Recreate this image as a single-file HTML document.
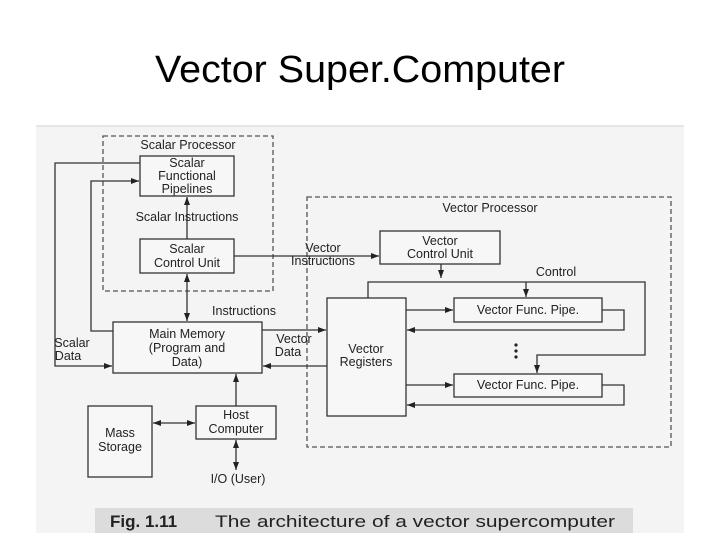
<!DOCTYPE html>
<html><head><meta charset="utf-8"><style>
html,body{margin:0;padding:0;background:#fff;}
svg{display:block;}
text{font-family:"Liberation Sans",sans-serif;fill:#222;}
</style></head><body>
<svg width="720" height="540" viewBox="0 0 720 540" xmlns="http://www.w3.org/2000/svg">
<defs>
<marker id="a" markerWidth="8" markerHeight="6" refX="8" refY="3" orient="auto" markerUnits="userSpaceOnUse"><path d="M0,0 L8,3 L0,6 z" fill="#222"/></marker>
<marker id="s" markerWidth="8" markerHeight="6" refX="0" refY="3" orient="auto" markerUnits="userSpaceOnUse"><path d="M8,0 L0,3 L8,6 z" fill="#222"/></marker>
</defs>
<text x="360" y="82" font-size="38" text-anchor="middle" textLength="410" lengthAdjust="spacingAndGlyphs" style="fill:#000">Vector Super.Computer</text>
<line x1="36" y1="126" x2="684" y2="126" stroke="#ccc" stroke-width="1"/>
<rect x="36" y="127" width="648" height="406" fill="#f4f4f4"/>
<rect x="95" y="508" width="538" height="25" fill="#dcdcdc"/>
<text x="110" y="527" font-size="17" font-weight="bold" style="font-family:'Liberation Sans',sans-serif;fill:#222">Fig. 1.11</text>
<text x="215" y="527" font-size="17" textLength="400" lengthAdjust="spacingAndGlyphs">The architecture of a vector supercomputer</text>

<g fill="none" stroke="#555" stroke-width="1.3" stroke-dasharray="5,3">
<rect x="103" y="136" width="170" height="155"/>
<rect x="307" y="197" width="364" height="250"/>
</g>
<g fill="#f7f7f7" stroke="#333" stroke-width="1.3">
<rect x="140" y="156" width="94" height="40"/>
<rect x="140" y="239" width="94" height="34"/>
<rect x="113" y="322" width="149" height="51"/>
<rect x="380" y="231" width="120" height="33"/>
<rect x="327" y="298" width="79" height="118"/>
<rect x="454" y="298" width="148" height="24"/>
<rect x="454" y="374" width="148" height="23"/>
<rect x="88" y="406" width="64" height="71"/>
<rect x="196" y="406" width="80" height="33"/>
</g>
<g fill="none" stroke="#333" stroke-width="1.3">
<line x1="187" y1="239" x2="187" y2="197" marker-end="url(#a)"/>
<line x1="234" y1="256" x2="379" y2="256" marker-end="url(#a)"/>
<line x1="187" y1="274" x2="187" y2="321" marker-start="url(#s)" marker-end="url(#a)"/>
<polyline points="140,163 55,163 55,366 112,366" marker-end="url(#a)"/>
<polyline points="113,331 91,331 91,181 139,181" marker-end="url(#a)"/>
<line x1="262" y1="330" x2="326" y2="330" marker-end="url(#a)"/>
<line x1="327" y1="366" x2="263" y2="366" marker-end="url(#a)"/>
<line x1="441" y1="264" x2="441" y2="278" marker-end="url(#a)"/>
<polyline points="368,298 368,282 645,282 645,355 537,355 537,373" marker-end="url(#a)"/>
<line x1="526" y1="282" x2="526" y2="297" marker-end="url(#a)"/>
<line x1="406" y1="310" x2="453" y2="310" marker-end="url(#a)"/>
<polyline points="602,310 624,310 624,330 407,330" marker-end="url(#a)"/>
<line x1="406" y1="385" x2="453" y2="385" marker-end="url(#a)"/>
<polyline points="602,385 624,385 624,405 407,405" marker-end="url(#a)"/>
<line x1="153" y1="423" x2="195" y2="423" marker-start="url(#s)" marker-end="url(#a)"/>
<line x1="236" y1="406" x2="236" y2="374" marker-end="url(#a)"/>
<line x1="236" y1="440" x2="236" y2="470" marker-start="url(#s)" marker-end="url(#a)"/>
</g>
<g fill="#222"><circle cx="516" cy="345" r="1.6"/><circle cx="516" cy="351" r="1.6"/><circle cx="516" cy="357" r="1.6"/></g>
<g font-size="12.5" text-anchor="middle">
<text x="188" y="149">Scalar Processor</text>
<text x="187" y="167">Scalar</text><text x="187" y="180">Functional</text><text x="187" y="193">Pipelines</text>
<text x="187" y="221">Scalar Instructions</text>
<text x="187" y="253">Scalar</text><text x="187" y="267">Control Unit</text>
<text x="323" y="252">Vector</text><text x="323" y="265">Instructions</text>
<text x="244" y="315">Instructions</text>
<text x="187" y="338">Main Memory</text><text x="187" y="352">(Program and</text><text x="187" y="366">Data)</text>
<text x="72" y="347">Scalar</text><text x="68" y="360">Data</text>
<text x="294" y="343">Vector</text><text x="288" y="356">Data</text>
<text x="490" y="212">Vector Processor</text>
<text x="440" y="245">Vector</text><text x="440" y="258">Control Unit</text>
<text x="556" y="276">Control</text>
<text x="366" y="353">Vector</text><text x="366" y="366">Registers</text>
<text x="528" y="314">Vector Func. Pipe.</text>
<text x="528" y="389">Vector Func. Pipe.</text>
<text x="120" y="437">Mass</text><text x="120" y="451">Storage</text>
<text x="236" y="419">Host</text><text x="236" y="433">Computer</text>
<text x="238" y="483">I/O (User)</text>
</g>
</svg>
</body></html>
